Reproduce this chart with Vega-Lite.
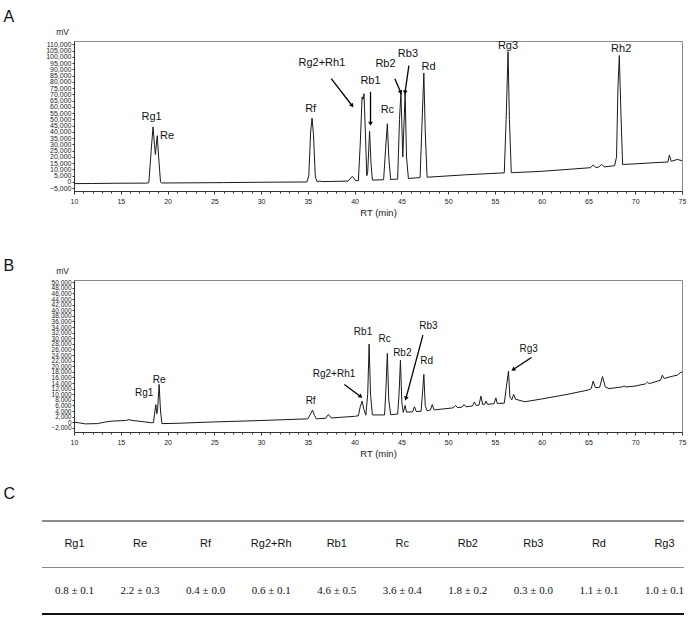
{
  "$schema": "https://vega.github.io/schema/vega-lite/v6.json",
  "padding": {"left": 3, "top": 8, "right": 0, "bottom": 0},
  "columns": 1,
  "align": "none",
  "bounds": "full",
  "spacing": 28,
  "config": {
    "font": "Liberation Sans",
    "view": {"stroke": "#8a8a8a"},
    "axis": {"labelFont": "Liberation Sans", "titleFont": "Liberation Sans", "labelColor": "#222", "titleColor": "#222", "domainColor": "#333", "tickColor": "#333", "grid": false, "titleFontWeight": "normal"},
    "title": {"font": "Liberation Sans", "fontWeight": "normal", "fontSize": 16, "anchor": "start", "frame": "group", "color": "#111"}
  },
  "datasets": {
    "curveA": [
      {"rt":10,"mv":-1300},{"rt":12,"mv":-1200},{"rt":14.5,"mv":-1000},{"rt":17.8,"mv":-900},{"rt":18.0,"mv":-500},{"rt":18.25,"mv":25000},{"rt":18.45,"mv":44000},{"rt":18.6,"mv":30000},{"rt":18.7,"mv":22000},{"rt":18.9,"mv":37000},{"rt":19.05,"mv":20000},{"rt":19.25,"mv":0},{"rt":19.4,"mv":-800},{"rt":22,"mv":-700},{"rt":26,"mv":-500},{"rt":30,"mv":-200},{"rt":34.9,"mv":0},{"rt":35.1,"mv":5000},{"rt":35.3,"mv":40000},{"rt":35.45,"mv":51000},{"rt":35.6,"mv":38000},{"rt":35.8,"mv":4000},{"rt":36.0,"mv":200},{"rt":36.3,"mv":800},{"rt":36.5,"mv":300},{"rt":39.3,"mv":700},{"rt":39.75,"mv":4500},{"rt":40.1,"mv":1200},{"rt":40.4,"mv":1000},{"rt":40.6,"mv":30000},{"rt":40.8,"mv":68000},{"rt":40.9,"mv":66000},{"rt":41.0,"mv":70500},{"rt":41.15,"mv":40000},{"rt":41.3,"mv":5000},{"rt":41.4,"mv":8000},{"rt":41.6,"mv":40500},{"rt":41.75,"mv":15000},{"rt":41.9,"mv":1500},{"rt":43.1,"mv":1800},{"rt":43.3,"mv":25000},{"rt":43.5,"mv":46500},{"rt":43.65,"mv":20000},{"rt":43.85,"mv":2000},{"rt":44.6,"mv":2300},{"rt":44.8,"mv":50000},{"rt":44.95,"mv":71500},{"rt":45.15,"mv":20000},{"rt":45.25,"mv":40000},{"rt":45.4,"mv":71500},{"rt":45.55,"mv":20000},{"rt":45.75,"mv":2800},{"rt":47.0,"mv":3500},{"rt":47.2,"mv":45000},{"rt":47.4,"mv":87000},{"rt":47.55,"mv":40000},{"rt":47.75,"mv":3800},{"rt":52,"mv":5800},{"rt":56.0,"mv":7300},{"rt":56.2,"mv":50000},{"rt":56.4,"mv":104000},{"rt":56.55,"mv":50000},{"rt":56.75,"mv":7400},{"rt":60,"mv":8500},{"rt":65.2,"mv":11400},{"rt":65.5,"mv":13500},{"rt":65.8,"mv":11600},{"rt":66.1,"mv":11900},{"rt":66.4,"mv":14000},{"rt":66.7,"mv":12100},{"rt":67.8,"mv":13000},{"rt":68.0,"mv":20000},{"rt":68.15,"mv":75000},{"rt":68.3,"mv":101000},{"rt":68.45,"mv":60000},{"rt":68.65,"mv":14000},{"rt":70,"mv":14500},{"rt":73.5,"mv":16000},{"rt":73.65,"mv":21500},{"rt":73.85,"mv":16500},{"rt":74.5,"mv":18000},{"rt":75,"mv":17000}
    ],
    "labelsA": [
      {"label":"Rg1","rt":18.3,"mv":51900},{"label":"Re","rt":19.95,"mv":37000},{"label":"Rf","rt":35.3,"mv":58000},{"label":"Rg2+Rh1","rt":36.5,"mv":95000},{"label":"Rb1","rt":41.7,"mv":81000},{"label":"Rc","rt":43.5,"mv":57300},{"label":"Rb2","rt":43.3,"mv":94000},{"label":"Rb3","rt":45.7,"mv":102500},{"label":"Rd","rt":47.9,"mv":91900},{"label":"Rg3","rt":56.4,"mv":109000},{"label":"Rh2","rt":68.5,"mv":106500}
    ],
    "arrowsA": [
      {"rt0":37.5,"mv0":82500,"rt":39.7,"mv":61300},
      {"rt0":41.7,"mv0":72000,"rt":41.7,"mv":47000},
      {"rt0":44.3,"mv0":82500,"rt":44.9,"mv":72000},
      {"rt0":45.8,"mv0":93000,"rt":45.4,"mv":72000}
    ],
    "curveB": [
      {"rt":10,"mv":0},{"rt":10.5,"mv":-200},{"rt":11.2,"mv":-600},{"rt":12.5,"mv":-500},{"rt":13.4,"mv":100},{"rt":14.1,"mv":400},{"rt":15.5,"mv":600},{"rt":15.9,"mv":900},{"rt":16.3,"mv":600},{"rt":17.6,"mv":100},{"rt":18.3,"mv":-200},{"rt":18.5,"mv":-100},{"rt":18.65,"mv":4000},{"rt":18.75,"mv":6300},{"rt":18.85,"mv":3000},{"rt":18.95,"mv":5000},{"rt":19.1,"mv":13500},{"rt":19.25,"mv":4000},{"rt":19.4,"mv":-500},{"rt":21,"mv":-400},{"rt":25,"mv":100},{"rt":30,"mv":600},{"rt":35.0,"mv":1200},{"rt":35.3,"mv":3000},{"rt":35.5,"mv":4300},{"rt":35.7,"mv":2500},{"rt":35.9,"mv":1200},{"rt":36.9,"mv":1400},{"rt":37.2,"mv":2800},{"rt":37.5,"mv":1500},{"rt":40.0,"mv":2100},{"rt":40.4,"mv":2300},{"rt":40.6,"mv":5500},{"rt":40.8,"mv":7500},{"rt":41.0,"mv":4500},{"rt":41.2,"mv":2500},{"rt":41.4,"mv":10000},{"rt":41.55,"mv":27900},{"rt":41.7,"mv":10000},{"rt":41.9,"mv":2600},{"rt":43.2,"mv":2600},{"rt":43.35,"mv":12000},{"rt":43.5,"mv":24600},{"rt":43.65,"mv":8000},{"rt":43.85,"mv":2700},{"rt":44.6,"mv":2900},{"rt":44.75,"mv":10000},{"rt":44.9,"mv":22100},{"rt":45.05,"mv":7000},{"rt":45.2,"mv":3500},{"rt":45.4,"mv":6000},{"rt":45.55,"mv":3600},{"rt":46.2,"mv":3700},{"rt":46.4,"mv":5500},{"rt":46.6,"mv":3800},{"rt":47.1,"mv":3900},{"rt":47.25,"mv":10000},{"rt":47.4,"mv":17100},{"rt":47.55,"mv":6000},{"rt":47.75,"mv":4100},{"rt":48.1,"mv":4300},{"rt":48.3,"mv":6300},{"rt":48.5,"mv":4400},{"rt":50.5,"mv":5100},{"rt":50.8,"mv":6000},{"rt":51.0,"mv":5200},{"rt":51.5,"mv":5400},{"rt":51.7,"mv":6300},{"rt":51.9,"mv":5500},{"rt":52.6,"mv":5800},{"rt":52.8,"mv":7200},{"rt":53.0,"mv":6000},{"rt":53.3,"mv":6100},{"rt":53.5,"mv":9300},{"rt":53.7,"mv":6300},{"rt":53.9,"mv":6400},{"rt":54.05,"mv":7500},{"rt":54.2,"mv":6400},{"rt":54.9,"mv":6600},{"rt":55.1,"mv":8700},{"rt":55.25,"mv":6700},{"rt":56.0,"mv":6800},{"rt":56.2,"mv":12000},{"rt":56.45,"mv":18300},{"rt":56.6,"mv":9000},{"rt":56.8,"mv":8000},{"rt":57.0,"mv":9900},{"rt":57.2,"mv":8200},{"rt":58.2,"mv":7300},{"rt":60,"mv":8300},{"rt":62.5,"mv":9800},{"rt":65,"mv":11500},{"rt":65.3,"mv":12000},{"rt":65.5,"mv":14700},{"rt":65.75,"mv":12300},{"rt":66.2,"mv":12500},{"rt":66.5,"mv":16300},{"rt":66.8,"mv":12600},{"rt":67.2,"mv":12000},{"rt":68.6,"mv":12600},{"rt":68.8,"mv":12900},{"rt":69.0,"mv":12600},{"rt":70,"mv":12900},{"rt":71.1,"mv":13700},{"rt":71.3,"mv":14300},{"rt":71.5,"mv":13800},{"rt":72.7,"mv":15000},{"rt":72.9,"mv":16800},{"rt":73.1,"mv":15600},{"rt":73.8,"mv":16300},{"rt":74.5,"mv":16800},{"rt":74.9,"mv":17900},{"rt":75,"mv":17900}
    ],
    "labelsB": [
      {"label":"Rg1","rt":17.5,"mv":10500},{"label":"Re","rt":19.1,"mv":15100},{"label":"Rf","rt":35.3,"mv":7500},{"label":"Rg2+Rh1","rt":37.8,"mv":17100},{"label":"Rb1","rt":40.9,"mv":32300},{"label":"Rc","rt":43.2,"mv":29900},{"label":"Rb2","rt":45.1,"mv":24600},{"label":"Rb3","rt":47.9,"mv":34200},{"label":"Rd","rt":47.7,"mv":21700},{"label":"Rg3","rt":58.6,"mv":26100}
    ],
    "arrowsB": [
      {"rt0":38.9,"mv0":13500,"rt":40.6,"mv":9300},
      {"rt0":47.3,"mv0":31100,"rt":45.5,"mv":8700},
      {"rt0":58.9,"mv0":23100,"rt":57.0,"mv":18900}
    ],
    "table": [
      {"compound":"Rg1","amount":"0.8 ± 0.1"},
      {"compound":"Re","amount":"2.2 ± 0.3"},
      {"compound":"Rf","amount":"0.4 ± 0.0"},
      {"compound":"Rg2+Rh","amount":"0.6 ± 0.1"},
      {"compound":"Rb1","amount":"4.6 ± 0.5"},
      {"compound":"Rc","amount":"3.6 ± 0.4"},
      {"compound":"Rb2","amount":"1.8 ± 0.2"},
      {"compound":"Rb3","amount":"0.3 ± 0.0"},
      {"compound":"Rd","amount":"1.1 ± 0.1"},
      {"compound":"Rg3","amount":"1.0 ± 0.1"}
    ]
  },
  "concat": [
    {
      "width": 608,
      "height": 150,
      "title": {"text": "A", "dx": -70.5, "offset": 2},
      "encoding": {
        "x": {"field": "rt", "type": "quantitative", "scale": {"domain": [10, 75], "nice": false, "zero": false},
          "axis": {"title": ["RT (min)", " "], "titleLineHeight": 12, "titleFontSize": 9.5, "titlePadding": 3, "values": [10,11,12,13,14,15,16,17,18,19,20,21,22,23,24,25,26,27,28,29,30,31,32,33,34,35,36,37,38,39,40,41,42,43,44,45,46,47,48,49,50,51,52,53,54,55,56,57,58,59,60,61,62,63,64,65,66,67,68,69,70,71,72,73,74,75],
            "labelExpr": "datum.value % 5 === 0 ? datum.label : ''", "labelFontSize": 7, "labelOverlap": false, "labelFlush": false, "labelPadding": 3,
            "tickSize": {"condition": {"test": "datum.value % 5 === 0", "value": 3}, "value": 2}}},
        "y": {"field": "mv", "type": "quantitative", "scale": {"domain": [-7200, 112600], "nice": false, "zero": false},
          "axis": {"title": "mV", "titleAngle": 0, "titleX": -12, "titleY": -5, "titleAlign": "center", "titleBaseline": "bottom", "titleFontSize": 8.5,
            "values": [-5000,0,5000,10000,15000,20000,25000,30000,35000,40000,45000,50000,55000,60000,65000,70000,75000,80000,85000,90000,95000,100000,105000,110000],
            "format": ",.0f", "labelFontSize": 7, "labelOverlap": false, "labelPadding": 1, "tickSize": 2}}
      },
      "layer": [
        {"data": {"name": "curveA"}, "mark": {"type": "line", "color": "#1a1a1a", "strokeWidth": 1}},
        {"data": {"name": "arrowsA"}, "mark": {"type": "rule", "color": "#000", "strokeWidth": 1.3},
          "encoding": {"x2": {"field": "rt0"}, "y2": {"field": "mv0"}}},
        {"data": {"name": "arrowsA"}, "transform": [{"calculate": "atan2((datum.rt - datum.rt0) * 9.35, (datum.mv - datum.mv0) * 0.001252) * 180 / PI", "as": "ang"}],
          "mark": {"type": "point", "shape": "triangle", "filled": true, "color": "#000", "size": 22, "opacity": 1},
          "encoding": {"angle": {"field": "ang", "type": "quantitative", "scale": null}}},
        {"data": {"name": "labelsA"}, "mark": {"type": "text", "fontSize": 11, "color": "#111", "baseline": "middle"},
          "encoding": {"text": {"field": "label"}}}
      ]
    },
    {
      "width": 608,
      "height": 152,
      "title": {"text": "B", "dx": -70.5, "offset": -8},
      "encoding": {
        "x": {"field": "rt", "type": "quantitative", "scale": {"domain": [10, 75], "nice": false, "zero": false},
          "axis": {"title": "RT (min)", "titleFontSize": 9.5, "titlePadding": 3, "values": [10,11,12,13,14,15,16,17,18,19,20,21,22,23,24,25,26,27,28,29,30,31,32,33,34,35,36,37,38,39,40,41,42,43,44,45,46,47,48,49,50,51,52,53,54,55,56,57,58,59,60,61,62,63,64,65,66,67,68,69,70,71,72,73,74,75],
            "labelExpr": "datum.value % 5 === 0 ? datum.label : ''", "labelFontSize": 7, "labelOverlap": false, "labelFlush": false, "labelPadding": 3,
            "tickSize": {"condition": {"test": "datum.value % 5 === 0", "value": 3}, "value": 2}}},
        "y": {"field": "mv", "type": "quantitative", "scale": {"domain": [-3500, 50800], "nice": false, "zero": false},
          "axis": {"title": "mV", "titleAngle": 0, "titleX": -12, "titleY": -5, "titleAlign": "center", "titleBaseline": "bottom", "titleFontSize": 8.5,
            "values": [-2000,0,2000,4000,6000,8000,10000,12000,14000,16000,18000,20000,22000,24000,26000,28000,30000,32000,34000,36000,38000,40000,42000,44000,46000,48000,50000],
            "format": ",.0f", "labelFontSize": 6.5, "labelOverlap": false, "labelPadding": 1, "tickSize": 2}}
      },
      "layer": [
        {"data": {"name": "curveB"}, "mark": {"type": "line", "color": "#1a1a1a", "strokeWidth": 1}},
        {"data": {"name": "arrowsB"}, "mark": {"type": "rule", "color": "#000", "strokeWidth": 1.3},
          "encoding": {"x2": {"field": "rt0"}, "y2": {"field": "mv0"}}},
        {"data": {"name": "arrowsB"}, "transform": [{"calculate": "atan2((datum.rt - datum.rt0) * 9.35, (datum.mv - datum.mv0) * 0.0028) * 180 / PI", "as": "ang"}],
          "mark": {"type": "point", "shape": "triangle", "filled": true, "color": "#000", "size": 22, "opacity": 1},
          "encoding": {"angle": {"field": "ang", "type": "quantitative", "scale": null}}},
        {"data": {"name": "labelsB"}, "mark": {"type": "text", "fontSize": 10, "color": "#111", "baseline": "middle"},
          "encoding": {"text": {"field": "label"}}}
      ]
    },
    {
      "width": 610,
      "height": 93,
      "title": {"text": "C", "dx": -70.5, "offset": 18},
      "view": {"stroke": null},
      "data": {"name": "table"},
      "encoding": {
        "x": {"field": "compound", "type": "nominal", "sort": null, "scale": {"type": "point", "range": [0.5, 590.5], "padding": 0}, "axis": null}
      },
      "layer": [
        {"mark": {"type": "rule", "color": "#8a8a8a", "strokeWidth": 1.2, "x2Offset": -31.5}, "encoding": {"x": null, "x2": {"value": 0}, "y": {"datum": 0, "type": "quantitative", "scale": {"domain": [0, 2], "reverse": true, "nice": false}, "axis": null}}},
        {"mark": {"type": "rule", "color": "#8a8a8a", "strokeWidth": 1.2, "x2Offset": -31.5}, "encoding": {"x": null, "x2": {"value": 0}, "y": {"datum": 1, "type": "quantitative"}}},
        {"mark": {"type": "rule", "color": "#111", "strokeWidth": 2, "x2Offset": -31.5}, "encoding": {"x": null, "x2": {"value": 0}, "y": {"datum": 2, "type": "quantitative"}}},
        {"mark": {"type": "text", "font": "Liberation Sans", "fontSize": 11, "color": "#111", "baseline": "middle"},
          "encoding": {"text": {"field": "compound"}, "y": {"datum": 0.5, "type": "quantitative"}}},
        {"mark": {"type": "text", "font": "Liberation Serif", "fontSize": 11, "color": "#111", "baseline": "middle"},
          "encoding": {"text": {"field": "amount"}, "y": {"datum": 1.5, "type": "quantitative"}}}
      ]
    }
  ]
}
